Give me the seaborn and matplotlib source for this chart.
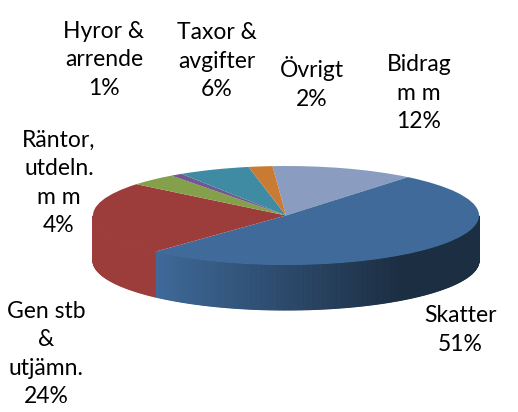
import numpy as np
import matplotlib
matplotlib.use("Agg")
import matplotlib.pyplot as plt
import matplotlib.colors as mcolors
import seaborn as sns

sns.set_theme(style="white")
plt.rcParams["font.family"] = ["Lato", "DejaVu Sans"]

categories = ["Bidrag\nm m", "Skatter", "Gen stb\n&\nutjämn.", "Räntor,\nutdeln.\nm m", "Hyror &\narrende", "Taxor &\navgifter", "Övrigt"]
shares = [12, 51, 24, 4, 1, 6, 2]
colors = ["#8a9dc0", "#3f6a9a", "#9c3d3b", "#84a04b", "#71588f", "#3f8ba3", "#c97b33"]
label_px = [(419, 93), (460, 330), (46, 354), (59, 183), (104, 60), (217, 61), (312, 83)]

W, H = 518, 412
cx, cy, rx, ry, depth = 286, 215.5, 193, 49.5, 45

fig = plt.figure(figsize=(W / 100, H / 100), dpi=100)
ax = fig.add_axes([0, 0, 1, 1])
wedges, _ = ax.pie(shares, colors=colors, startangle=94, counterclock=False,
                   wedgeprops={"linewidth": 0}, radius=1)
ax.set_aspect("auto")
ax.set_xlim(-cx / rx, (W - cx) / rx)
ax.set_ylim((cy - H) / ry, cy / ry)
ax.axis("off")

# side wall, only the part of the rim facing the viewer
d = depth / ry
for w, col in zip(wedges, colors):
    t1, t2 = w.theta1 % 360, w.theta2 % 360
    if t2 <= t1:
        t2 += 360
    ts = np.arange(t1, t2 + 0.5, 0.5)
    ts = ts[np.sin(np.radians(ts)) < 0]
    if len(ts) < 2:
        continue
    base = np.array(mcolors.to_rgb(col))
    for a, b in zip(ts[:-1], ts[1:]):
        xa, xb = np.cos(np.radians([a, b]))
        ya, yb = np.sin(np.radians([a, b]))
        f = np.clip((xa + 0.69) / 1.28, 0, 1)
        c = base * (1 - 0.57 * f)
        ax.fill([xa, xb, xb, xa], [ya, yb, yb - d, ya - d], facecolor=c, edgecolor=c,
                lw=0.8, zorder=0)

for name, share, (px, py) in zip(categories, shares, label_px):
    ax.text((px - cx) / rx, (cy - py) / ry, f"{name}\n{share}%", ha="center", va="center",
            fontsize=16.5, color="black", linespacing=1.42)

fig.savefig("out.png", dpi=100)
